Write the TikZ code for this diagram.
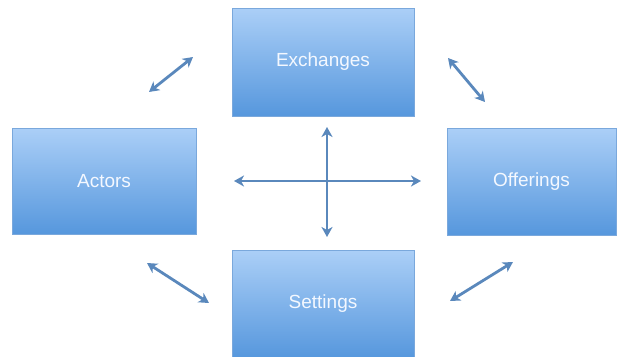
\documentclass[tikz,border=0pt]{standalone}
\usepackage{fontspec}
\setmainfont{Liberation Sans}
\usetikzlibrary{arrows.meta,shadows}
\definecolor{boxtop}{HTML}{ABCFF7}
\definecolor{boxbot}{HTML}{5697DD}
\definecolor{boxline}{HTML}{7AA8DC}
\definecolor{arrowc}{HTML}{5A88BC}
\definecolor{txt}{HTML}{F4F8FF}
\tikzset{
  box/.style={draw=boxline, line width=0.6pt, top color=boxtop, bottom color=boxbot,
    drop shadow={shadow xshift=1.2pt, shadow yshift=-1.2pt, opacity=0.25},
    text=txt, font=\fontsize{19}{22}\selectfont, inner sep=0pt},
  link/.style={draw=arrowc, line width=2.8pt, {Stealth[length=10pt,width=11pt,inset=3pt]}-{Stealth[length=10pt,width=11pt,inset=3pt]}}
}
\begin{document}
\begin{tikzpicture}[x=1pt,y=-1pt]
\useasboundingbox[fill=white] (0,0) rectangle (618,356);
\node[box, minimum width=182pt, minimum height=108pt] (ex) at (323,62) {Exchanges};
\node[box, minimum width=184pt, minimum height=106pt] (ac) at (104,181) {Actors};
\node[box, minimum width=169pt, minimum height=107pt] (of) at (531.5,181.5) {Offerings};
\node[box, minimum width=182pt, minimum height=108pt] (se) at (323,304) {Settings};
\coordinate (l) at (234,181);
\coordinate (r) at (421,181);
\coordinate (t) at (327,127);
\coordinate (b) at (327,237);
\coordinate (tl1) at (149,92);
\coordinate (tl2) at (193,57);
\coordinate (tr1) at (448,58);
\coordinate (tr2) at (485,102);
\coordinate (bl1) at (147,263);
\coordinate (bl2) at (209,303);
\coordinate (br1) at (450,301);
\coordinate (br2) at (513,262);
\draw[link] (l) -- (r);
\draw[link] (t) -- (b);
\draw[link] (tl1) -- (tl2);
\draw[link] (tr1) -- (tr2);
\draw[link] (bl1) -- (bl2);
\draw[link] (br1) -- (br2);
\end{tikzpicture}
\end{document}
